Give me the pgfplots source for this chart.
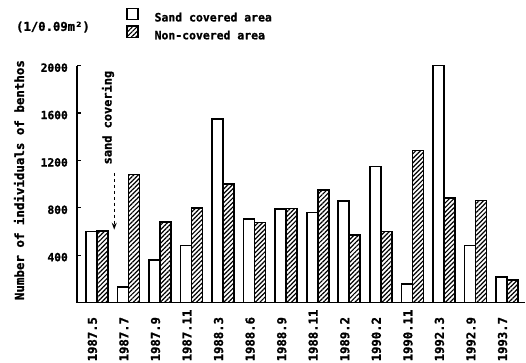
\documentclass[border=0pt]{standalone}
\usepackage{fontspec}
\setmainfont{DejaVu Sans Mono}[BoldFont={DejaVu Sans Mono Bold}, BoldFeatures={FakeBold=1.2}]
\usepackage{pgfplots}
\pgfplotsset{compat=1.18}
\usetikzlibrary{patterns.meta,arrows.meta}
\pgfplotstableread{
x open hatched
0 600 605
1 130 1080
2 360 680
3 480 800
4 1550 1000
5 705 677
6 790 795
7 760 950
8 855 570
9 1150 600
10 155 1285
11 2000 885
12 480 860
13 215 190
}\benthos
\begin{document}
\begin{tikzpicture}
\begin{axis}[
  scale only axis,
  width=448bp, height=236.8bp,
  xmin=-0.63, xmax=13.57,
  ymin=0, ymax=2000,
  clip=false,
  axis lines*=left,
  axis line style={line width=1.8bp},
  ybar=0pt, bar width=11bp,
  xtick={0,...,13},
  xticklabels={1987.5,1987.7,1987.9,1987.11,1988.3,1988.6,1988.9,1988.11,1989.2,1990.2,1990.11,1992.3,1992.9,1993.7},
  x tick style={draw=none},
  xticklabel shift=59bp,
  xticklabel style={font=\fontsize{12.3}{12.3}\selectfont\bfseries, inner sep=0pt, xshift=-4.5bp, rotate=90, anchor=west},
  ytick={400,800,1200,1600,2000},
  tick align=inside,
  major tick length=4bp,
  y tick style={line width=1.2bp, black},
  yticklabel style={font=\fontsize{11.3}{11.3}\selectfont\bfseries, inner sep=0pt, xshift=-9bp, yshift=-2bp},
  /pgf/number format/assume math mode=true,
  /pgf/number format/1000 sep={},
  ylabel={Number of individuals of benthos},
  ylabel style={font=\fontsize{12.5}{12.5}\selectfont\bfseries, at={(axis description cs:-0.1295,0.517)}, anchor=center},
  legend image code/.code={\draw[#1, line width=1.4bp] (0bp,-1.6bp) rectangle (11bp,9.6bp);},
  legend style={draw=none, fill=none, inner sep=0pt, row sep=2.5bp, column sep=16bp,
    font=\fontsize{11.5}{11.5}\selectfont\bfseries,
    nodes={inner sep=0pt},
    at={(axis description cs:0.1094,1.2466)}, anchor=north west},
  legend cell align=left,
]
\addplot[draw=black, line width=1.6bp, fill=white] table[x=x, y=open] {\benthos};
\addlegendentry{Sand covered area}
\addplot[draw=black, line width=1.6bp, pattern={Lines[angle=45,distance=3.2bp,line width=1.2bp]}] table[x=x, y=hatched] {\benthos};
\addlegendentry{Non-covered area}
\node[font=\fontsize{12}{12}\selectfont\bfseries, rotate=90, anchor=south west, inner sep=0pt] at (axis cs:0.55,1165) {sand covering};
\draw[dashed, line width=1bp, -{Stealth[length=7bp,width=5bp]}] (axis cs:0.55,1095) -- (axis cs:0.55,615);
\node[font=\fontsize{12.3}{12.3}\selectfont\bfseries, anchor=center, inner sep=0pt] at (axis description cs:-0.0536,1.1634) {(1/0.09m²)};
\end{axis}
\pgfresetboundingbox
\path (-77bp,-60.5bp) rectangle (449bp,302.5bp);
\end{tikzpicture}
\end{document}
